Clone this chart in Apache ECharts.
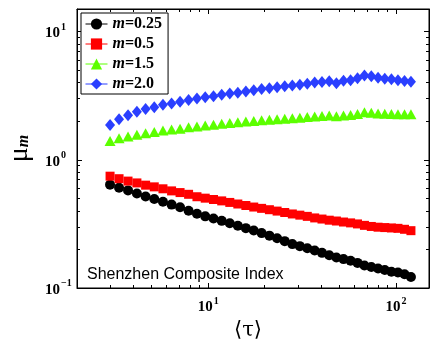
<!DOCTYPE html>
<html>
<head>
<meta charset="utf-8">
<script src="https://cdn.jsdelivr.net/npm/echarts@6/dist/echarts.min.js"></script>
<style>
  html, body { margin: 0; padding: 0; background: #fff; }
  #chart { width: 436px; height: 340px; }
</style>
</head>
<body>
<div id="chart"></div>
<script>
/* ── Data ── (log–log) ───────────────────────────────────────────────── */

const tau = [
  3.00, 3.35, 3.74, 4.17, 4.64, 5.16, 5.74, 6.38, 7.08, 7.86,
  8.71, 9.64, 10.67, 11.80, 13.03, 14.38, 15.87, 17.48, 19.25, 21.18,
  23.28, 25.56, 28.06, 30.77, 33.71, 36.91, 40.37, 44.12, 48.18, 52.57,
  57.33, 62.42, 67.96, 73.92, 80.31, 87.20, 94.60, 102.5, 111.1, 120.2
];

const mu025 = [
  0.640, 0.606, 0.577, 0.546, 0.518, 0.495, 0.470, 0.447, 0.426, 0.400,
  0.380, 0.362, 0.348, 0.334, 0.320, 0.306, 0.293, 0.281, 0.268, 0.256,
  0.244, 0.232, 0.220, 0.212, 0.204, 0.196, 0.188, 0.180, 0.173, 0.168,
  0.163, 0.157, 0.150, 0.146, 0.142, 0.138, 0.134, 0.132, 0.128, 0.122
];

const mu05 = [
  0.745, 0.712, 0.682, 0.660, 0.634, 0.615, 0.594, 0.572, 0.555, 0.538,
  0.515, 0.502, 0.490, 0.478, 0.465, 0.452, 0.440, 0.428, 0.418, 0.408,
  0.398, 0.388, 0.378, 0.370, 0.362, 0.352, 0.345, 0.338, 0.333, 0.327,
  0.322, 0.316, 0.308, 0.302, 0.298, 0.296, 0.294, 0.292, 0.287, 0.280
];

const mu15 = [
  1.40, 1.47, 1.52, 1.57, 1.61, 1.65, 1.69, 1.72, 1.75, 1.79,
  1.82, 1.85, 1.88, 1.91, 1.94, 1.96, 1.99, 2.01, 2.03, 2.05,
  2.07, 2.09, 2.11, 2.13, 2.16, 2.18, 2.20, 2.22, 2.19, 2.22,
  2.24, 2.28, 2.35, 2.33, 2.30, 2.29, 2.28, 2.27, 2.27, 2.27
];

const mu20 = [
  1.87, 2.07, 2.23, 2.37, 2.49, 2.57, 2.69, 2.75, 2.84, 2.93,
  3.00, 3.08, 3.13, 3.22, 3.29, 3.34, 3.41, 3.49, 3.56, 3.61,
  3.68, 3.75, 3.80, 3.84, 3.92, 4.01, 4.05, 4.10, 3.96, 4.14,
  4.18, 4.33, 4.55, 4.49, 4.37, 4.29, 4.24, 4.18, 4.12, 4.07
];

const seriesNames = ['m=0.25', 'm=0.5', 'm=1.5', 'm=2.0'];

const xMinorTicks = [3, 4, 5, 6, 7, 8, 9, 20, 30, 40, 50, 60, 70, 80, 90];
const yMinorTicks = [0.2, 0.3, 0.4, 0.5, 0.6, 0.7, 0.8, 0.9, 2, 3, 4, 5, 6, 7, 8, 9];

/* ── Chart ─────────────────────────────────────────────────────────────── */

const SERIF = '"Liberation Serif", "DejaVu Serif", serif';

const pairs = (xs, ys) => xs.map((x, i) => [x, ys[i]]);

// "10^n" as rich text with a raised exponent
function powLabel(v) {
  const e = Math.round(Math.log10(v));
  return `{b|10}{s|${e < 0 ? '\u2212' + (-e) : e}}`;
}
const powRich = {
  b: { fontFamily: SERIF, fontWeight: 'bold', fontSize: 15, color: '#000', lineHeight: 19, verticalAlign: 'bottom' },
  s: { fontFamily: SERIF, fontWeight: 'bold', fontSize: 10, color: '#000', lineHeight: 11, verticalAlign: 'top', padding: [0, 0, 0, 1] },
};

const X_RANGE = { min: 2, max: 150 };
const Y_RANGE = { min: 0.1, max: 15 };

function baseAxis(range, position, extra) {
  return Object.assign({
    type: 'log',
    logBase: 10,
    min: range.min,
    max: range.max,
    position,
    axisLine: { show: true, onZero: false, lineStyle: { color: '#000', width: 1 } },
    axisTick: { show: true, inside: true, length: 5, lineStyle: { color: '#000', width: 1 } },
    axisLabel: { show: false },
    splitLine: { show: false },
    minorTick: { show: false },
  }, extra);
}

// minor ticks live on their own overlaid axes (customValues)
function minorAxis(range, position, values) {
  return baseAxis(range, position, {
    axisLine: { show: false },
    axisTick: { show: true, inside: true, length: 3, customValues: values, lineStyle: { color: '#000', width: 1 } },
  });
}

const chart = echarts.init(document.getElementById('chart'), null, { renderer: 'canvas' });

const symbols = [
  { symbol: 'circle',   size: 10,       color: '#000000' },
  { symbol: 'rect',     size: 9,        color: '#ff0000' },
  { symbol: 'triangle', size: [11, 10], color: '#5cff00' },
  { symbol: 'diamond',  size: [10, 12], color: '#2a3fff' },
];
const values = [mu025, mu05, mu15, mu20];

chart.setOption({
  animation: false,
  backgroundColor: '#fff',
  grid: {
    left: 77, right: 7, top: 9, bottom: 52,
    outerBoundsMode: 'none',
    show: true, borderColor: '#000', borderWidth: 1, backgroundColor: 'transparent',
  },
  xAxis: [
    baseAxis(X_RANGE, 'bottom', {
      axisLabel: {
        show: true, margin: 8, showMinLabel: false, showMaxLabel: false,
        formatter: powLabel, rich: powRich,
      },
      name: '\u27E8\u03C4\u27E9',
      nameLocation: 'middle',
      nameGap: 22,
      nameTextStyle: { fontFamily: '"DejaVu Serif", serif', fontSize: 21, color: '#000', verticalAlign: 'top', padding: [0, 10, 0, 0] },
    }),
    baseAxis(X_RANGE, 'top'),
    minorAxis(X_RANGE, 'bottom', xMinorTicks),
    minorAxis(X_RANGE, 'top', xMinorTicks),
  ],
  yAxis: [
    baseAxis(Y_RANGE, 'left', {
      axisLabel: {
        show: true, margin: 32, align: 'left', showMinLabel: true, showMaxLabel: false,
        formatter: powLabel, rich: powRich,
      },
      name: '{mu|\u03BC}{m|m}',
      nameLocation: 'middle',
      nameRotate: 90,
      nameGap: 41,
      nameTextStyle: {
        rich: {
          mu: { fontFamily: SERIF, fontSize: 28, color: '#000', lineHeight: 26, verticalAlign: 'top' },
          m:  { fontFamily: SERIF, fontSize: 16, fontStyle: 'italic', fontWeight: 'bold', color: '#000',
                lineHeight: 16, verticalAlign: 'bottom', padding: [20, 0, 0, 0] },
        },
      },
    }),
    baseAxis(Y_RANGE, 'right'),
    minorAxis(Y_RANGE, 'left', yMinorTicks),
    minorAxis(Y_RANGE, 'right', yMinorTicks),
  ],
  legend: {
    orient: 'vertical',
    left: 81, top: 13,
    itemWidth: 22, itemHeight: 14, itemGap: 4,
    padding: [3, 6, 2, 4],
    borderColor: '#000', borderWidth: 1, borderRadius: 0,
    backgroundColor: '#fff',
    lineStyle: { width: 1, opacity: 1 },
    data: seriesNames,
    formatter: name => `{i|m}{n|${name.slice(1)}}`,
    textStyle: {
      rich: {
        i: { fontFamily: SERIF, fontStyle: 'italic', fontWeight: 'bold', fontSize: 16, color: '#000', lineHeight: 14 },
        n: { fontFamily: SERIF, fontWeight: 'bold', fontSize: 16, color: '#000', lineHeight: 14 },
      },
    },
  },
  graphic: [{
    type: 'text',
    left: 87, top: 267,
    style: { text: 'Shenzhen Composite Index', font: '16px "Liberation Sans", Arial, sans-serif', fill: '#000' },
    z: 10,
  }],
  series: values.map((v, i) => ({
    name: seriesNames[i],
    type: 'line',
    xAxisIndex: 0,
    yAxisIndex: 0,
    data: pairs(tau, v),
    symbol: symbols[i].symbol,
    symbolSize: symbols[i].size,
    showSymbol: true,
    itemStyle: { color: symbols[i].color, borderWidth: 0 },
    lineStyle: { color: symbols[i].color, width: 1, opacity: 0 },
    silent: true,
    z: 2 + i,
  })),
});
</script>
</body>
</html>
